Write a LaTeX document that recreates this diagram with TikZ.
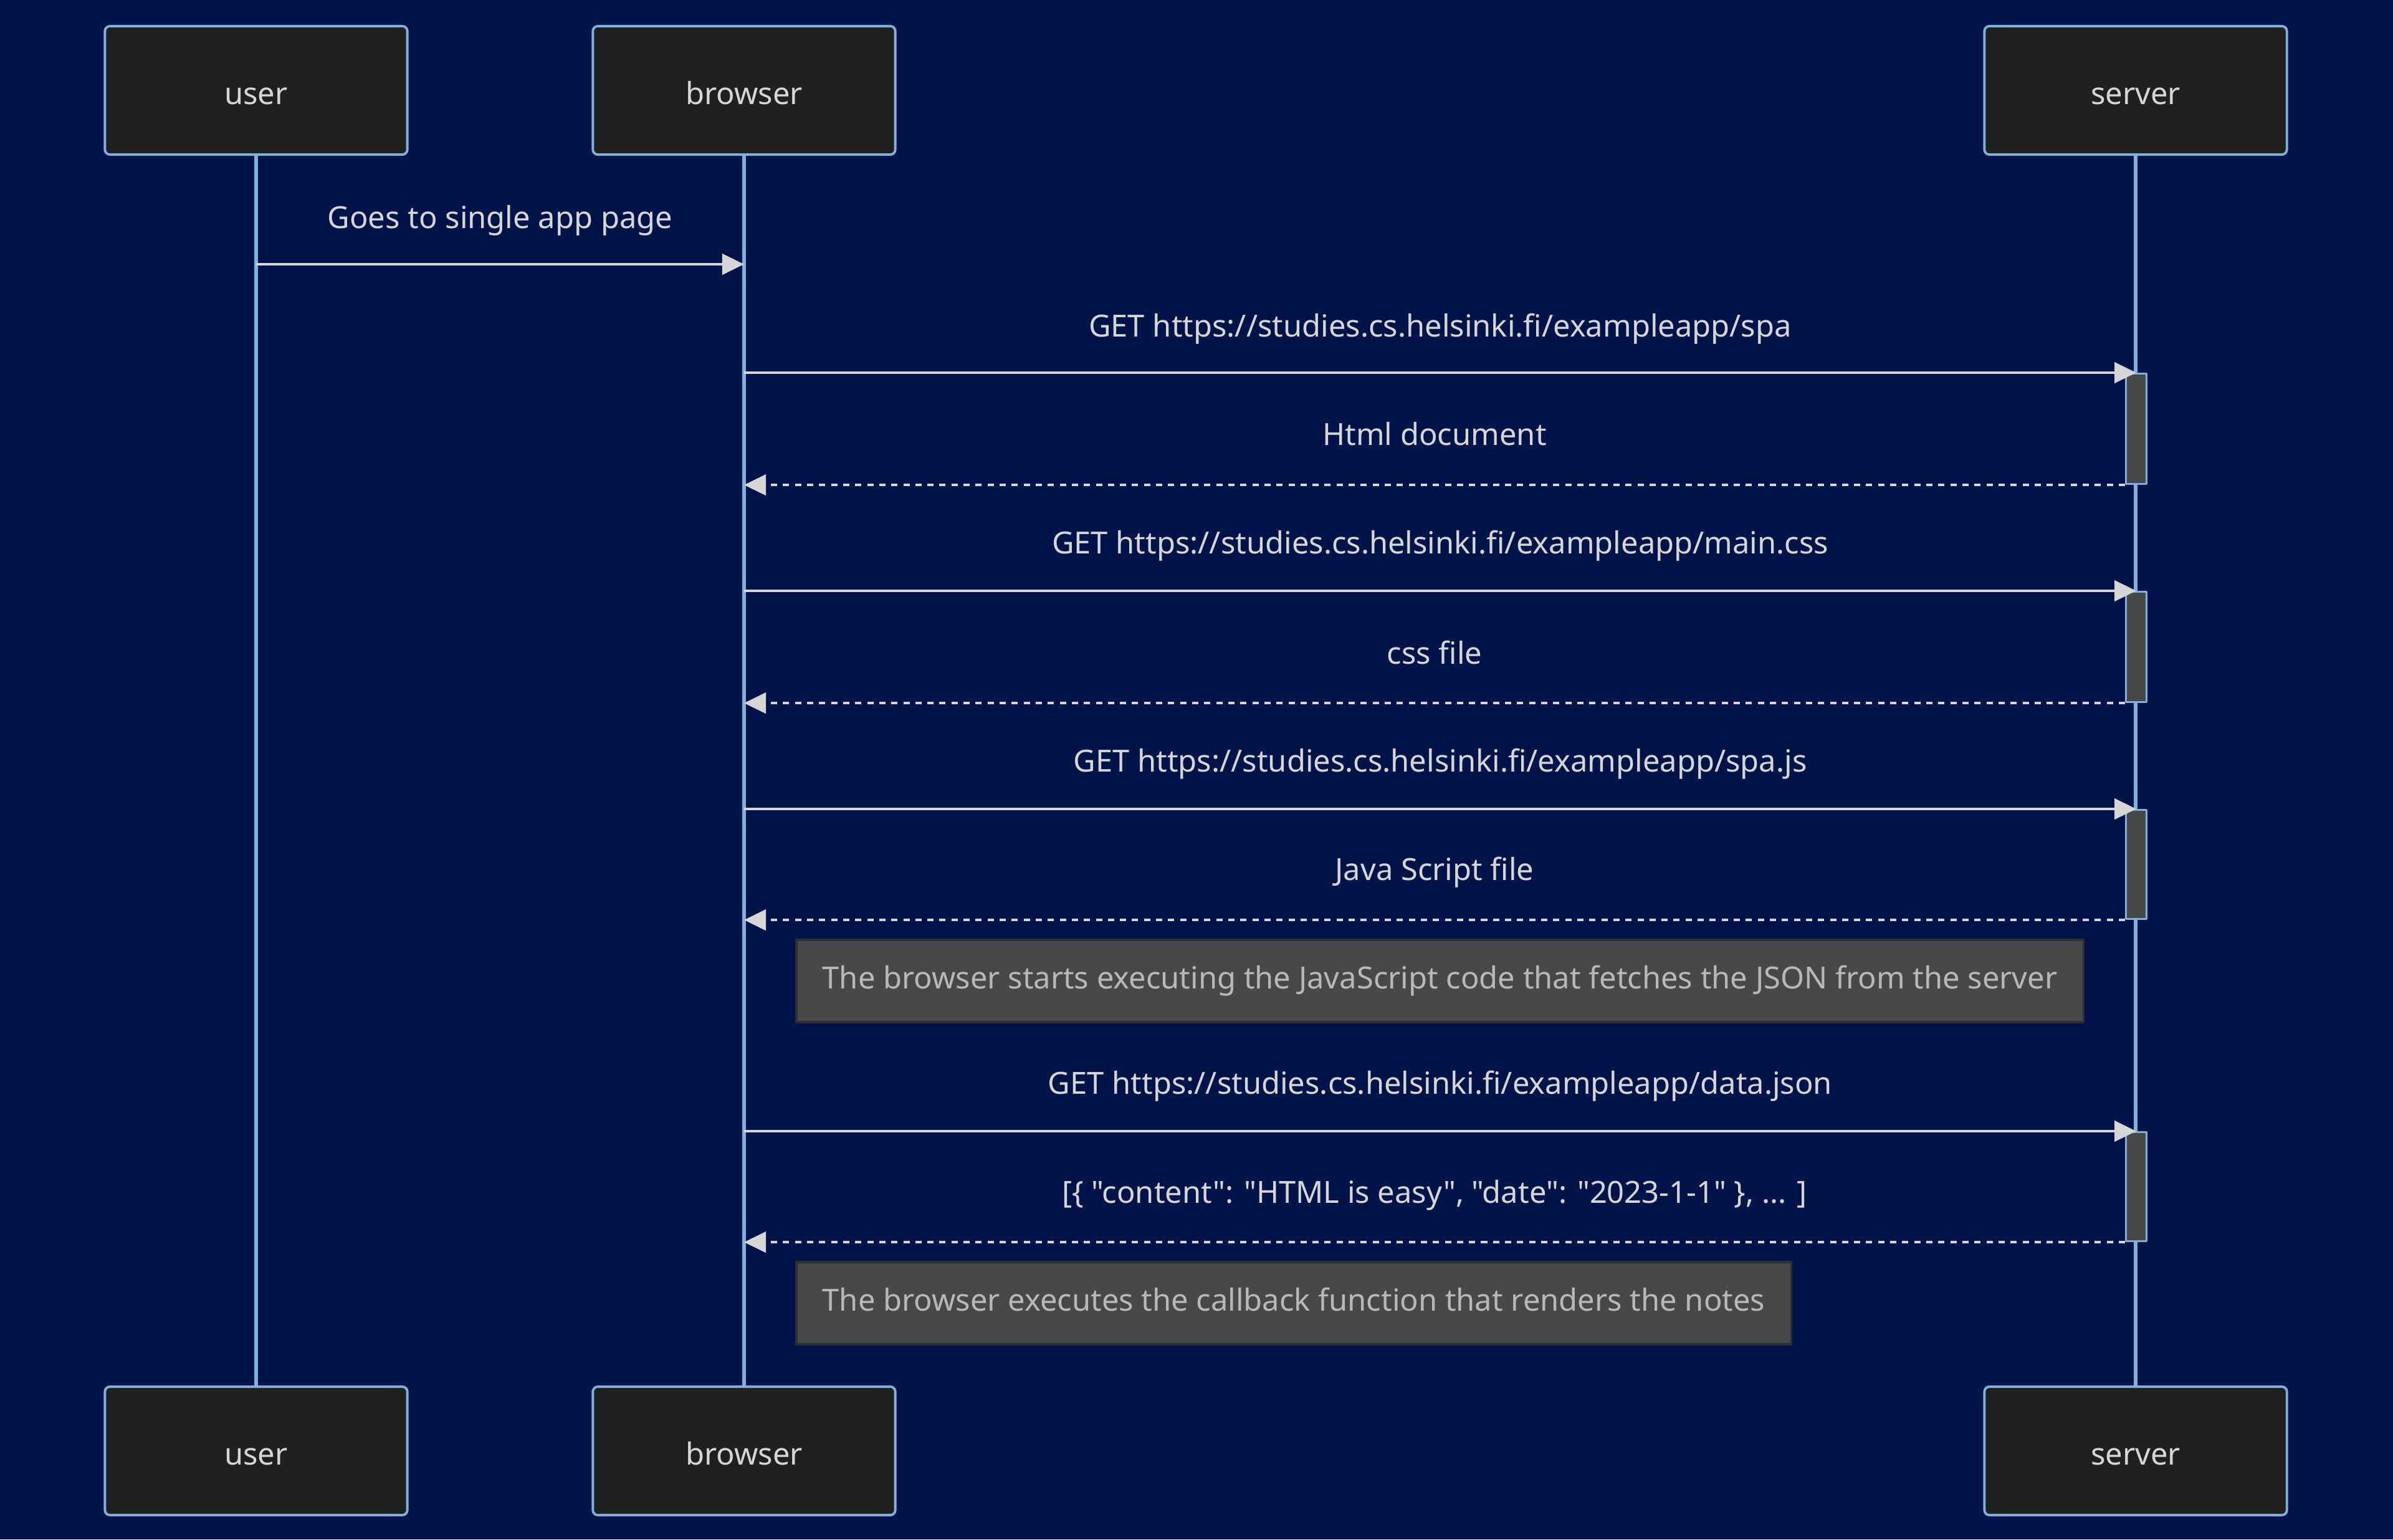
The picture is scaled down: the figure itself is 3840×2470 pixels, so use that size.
\documentclass[tikz,border=0pt]{standalone}
\usepackage{fontspec}
\setmainfont{Noto Sans}[Ligatures=TeXOff]
\usetikzlibrary{arrows.meta}

\definecolor{bgnavy}{HTML}{00144A}
\definecolor{actfill}{HTML}{1F2020}
\definecolor{actline}{HTML}{81B1DB}
\definecolor{msgtext}{HTML}{D6D6D6}
\definecolor{notefill}{HTML}{474949}
\definecolor{noteline}{HTML}{2E3030}
\definecolor{notetext}{HTML}{B8B8B8}

\tikzset{
  actor/.style={draw=actline, line width=1.1pt, fill=actfill, rounded corners=0.08cm,
    minimum width=4.85cm, minimum height=2.06cm, text=msgtext, font=\fontsize{13.9}{17}\selectfont,
    text height=15pt, text depth=2pt},
  lifeline/.style={draw=actline, line width=1.7pt},
  msg/.style={draw=msgtext, line width=1.3pt, -{Triangle[length=0.35cm,width=0.33cm]}},
  reply/.style={msg, dash pattern=on 0.1cm off 0.093cm},
  lbl/.style={text=msgtext, font=\fontsize{13.9}{17}\selectfont, text height=0.75em, text depth=0.22em},
  activ/.style={draw=actline, line width=0.85pt, fill=notefill, minimum width=0.33cm, inner sep=0pt},
  note/.style={draw=noteline, line width=1pt, fill=notefill, text=notetext, minimum height=1.32cm,
    inner xsep=0.42cm, font=\fontsize{13.9}{17}\selectfont, text height=0.95em, text depth=0.22em}
}

\begin{document}
\begin{tikzpicture}[x=0.01cm,y=-0.01cm,line join=round]
	\fill[bgnavy] (0,0) rectangle (3840,2470);
	\useasboundingbox (0,0) rectangle (3840,2470);
	% participants
	\node[actor] (usertop) at (411,145) {user};
	\node[actor] (browsertop) at (1194,145) {browser};
	\node[actor] (servertop) at (3427,145) {server};
	\node[actor] (userbot) at (411,2328) {user};
	\node[actor] (browserbot) at (1194,2328) {browser};
	\node[actor] (serverbot) at (3427,2328) {server};
	\draw[lifeline] (usertop) -- (userbot);
	\draw[lifeline] (browsertop) -- (browserbot);
	\draw[lifeline] (servertop) -- (serverbot);
	% activations on the server
	\node[activ, minimum height=1.77cm, anchor=north] (act1) at (3428,598) {};
	\node[activ, minimum height=1.77cm, anchor=north] (act2) at (3428,948) {};
	\node[activ, minimum height=1.75cm, anchor=north] (act3) at (3428,1298) {};
	\node[activ, minimum height=1.75cm, anchor=north] (act4) at (3428,1815) {};
	% messages
	\coordinate (go) at (411,424);
	\draw[msg] (go) -- (browsertop |- go) node[lbl, midway, yshift=0.67cm] {Goes to single app page};
	\draw[msg] (browsertop |- act1.north) -- (act1.north) node[lbl, midway, yshift=0.67cm] {GET https://studies.cs.helsinki.fi/exampleapp/spa};
	\draw[reply] (act1.south west) -- (browsertop |- act1.south) node[lbl, midway, yshift=0.73cm] {Html document};
	\draw[msg] (browsertop |- act2.north) -- (act2.north) node[lbl, midway, yshift=0.69cm] {GET https://studies.cs.helsinki.fi/exampleapp/main.css};
	\draw[reply] (act2.south west) -- (browsertop |- act2.south) node[lbl, midway, yshift=0.72cm] {css file};
	\draw[msg] (browsertop |- act3.north) -- (act3.north) node[lbl, midway, yshift=0.69cm] {GET https://studies.cs.helsinki.fi/exampleapp/spa.js};
	\draw[reply] (act3.south west) -- (browsertop |- act3.south) node[lbl, midway, yshift=0.73cm] {Java Script file};
	\node[note, anchor=north west] (note1) at (1276,1506) {The browser starts executing the JavaScript code that fetches the JSON from the server};
	\draw[msg] (browsertop |- act4.north) -- (act4.north) node[lbl, midway, yshift=0.69cm] {GET https://studies.cs.helsinki.fi/exampleapp/data.json};
	\draw[reply] (act4.south west) -- (browsertop |- act4.south) node[lbl, midway, yshift=0.72cm] {[\{ "content": "HTML is easy", "date": "2023-1-1" \}, ... ]};
	\node[note, anchor=north west] (note2) at (1276,2023) {The browser executes the callback function that renders the notes};
\end{tikzpicture}
\end{document}
